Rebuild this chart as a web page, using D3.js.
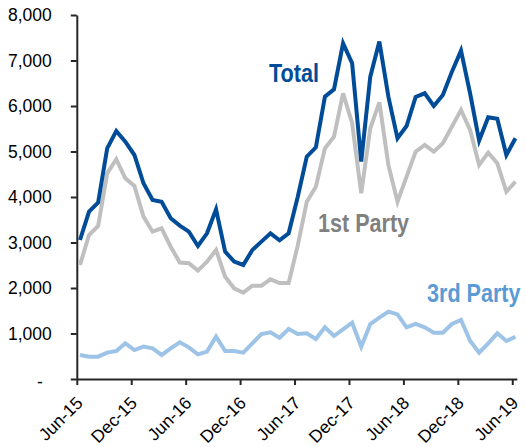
<!DOCTYPE html>
<html>
<head>
<meta charset="utf-8">
<script src="https://cdn.jsdelivr.net/npm/d3@7"></script>
<style>
  body { margin: 0; background: #fff; }
  svg { display: block; }
  .axis text { font-family: "Liberation Sans", Arial, sans-serif; font-size: 17.5px; fill: #000; }
  .axis path, .axis line { stroke: #262626; stroke-width: 2; }
  .series-label { font-family: "Liberation Sans", Arial, sans-serif; font-weight: bold; font-size: 26px; }
</style>
</head>
<body>
<script>
// monthly categories, Jun-15 .. Jun-19
const months = [
  "Jun-15","Jul-15","Aug-15","Sep-15","Oct-15","Nov-15","Dec-15",
  "Jan-16","Feb-16","Mar-16","Apr-16","May-16","Jun-16","Jul-16","Aug-16","Sep-16","Oct-16","Nov-16","Dec-16",
  "Jan-17","Feb-17","Mar-17","Apr-17","May-17","Jun-17","Jul-17","Aug-17","Sep-17","Oct-17","Nov-17","Dec-17",
  "Jan-18","Feb-18","Mar-18","Apr-18","May-18","Jun-18","Jul-18","Aug-18","Sep-18","Oct-18","Nov-18","Dec-18",
  "Jan-19","Feb-19","Mar-19","Apr-19","May-19","Jun-19"
];

const total = [
  3055, 3678, 3876, 5070, 5451, 5216, 4923, 4301, 3934, 3897, 3532, 3370, 3238,
  2923, 3202, 3729, 2799, 2579, 2506, 2835, 3019, 3202, 3050, 3202, 4000,
  4887, 5090, 6206, 6367, 7378, 6939, 4777, 6645, 7415, 6200, 5290, 5560,
  6200, 6279, 6001, 6242, 6755, 7217, 6280, 5240, 5752, 5720, 4923, 5290
];

const firstParty = [
  2506, 3165, 3363, 4521, 4829, 4411, 4242, 3568, 3238, 3312, 2908, 2560, 2543,
  2381, 2579, 2835, 2249, 1993, 1897, 2051, 2051, 2191, 2110, 2110, 2930,
  3897, 4227, 5070, 5326, 6279, 5620, 4081, 5510, 6080, 4700, 3897, 4447,
  4996, 5143, 4996, 5180, 5546, 5913, 5473, 4704, 4975, 4740, 4117, 4337
];

const thirdParty = [
  528, 491, 491, 579, 615, 784, 637, 711, 674, 528, 674, 806, 696,
  542, 601, 931, 615, 615, 579, 784, 989, 1026, 909, 1099, 989,
  1004, 879, 1136, 945, 1092, 1238, 711, 1209, 1348, 1480, 1421, 1136,
  1209, 1136, 1018, 1018, 1209, 1297, 842, 579, 784, 1004, 835, 930
];

const tickLabels = ["Jun-15","Dec-15","Jun-16","Dec-16","Jun-17","Dec-17","Jun-18","Dec-18","Jun-19"];
const yTicks = [0, 1000, 2000, 3000, 4000, 5000, 6000, 7000, 8000];

const width = 526, height = 447;

const svg = d3.select("body").append("svg")
    .attr("width", width)
    .attr("height", height);

// month index scale; axis starts a third of a month before the first point
const x = d3.scaleLinear().domain([-0.35, 48.15]).range([76.8, 516.8]);
const y = d3.scaleLinear().domain([0, 8000]).range([379, 15]);

// y axis
const yAxis = svg.append("g")
    .attr("class", "axis")
    .attr("transform", `translate(${x(-0.35)},0)`)
    .call(d3.axisLeft(y)
        .tickValues(yTicks)
        .tickSize(6)
        .tickSizeOuter(0)
        .tickPadding(19)
        .tickFormat(d => d === 0 ? "-" : d3.format(",")(d)));

yAxis.selectAll(".tick text")
    .filter(d => d === 0)
    .attr("dx", -9)
    .attr("dy", "0.5em");

// x axis
const xTickPos = tickLabels.map((t) => months.indexOf(t) - 0.35);

const xAxis = svg.append("g")
    .attr("class", "axis")
    .attr("transform", `translate(0,${y(0)})`)
    .call(d3.axisBottom(x)
        .tickValues(xTickPos)
        .tickSize(6)
        .tickSizeOuter(0)
        .tickFormat((d, i) => tickLabels[i]));

xAxis.selectAll(".tick text")
    .attr("x", 0)
    .attr("y", 0)
    .attr("dy", 0)
    .attr("text-anchor", "end")
    .attr("transform", "translate(6.5,25) rotate(-45)");

// lines
const line = d3.line()
    .x((d, i) => x(i))
    .y(d => y(d));

const series = [
    { values: firstParty, color: "#bfbfbf" },
    { values: thirdParty, color: "#9dc3e6" },
    { values: total, color: "#004c99" }
];

svg.append("g")
    .selectAll("path")
    .data(series)
    .join("path")
    .attr("d", d => line(d.values))
    .attr("fill", "none")
    .attr("stroke", d => d.color)
    .attr("stroke-width", 4)
    .attr("stroke-linejoin", "miter");

// series labels
const labels = [
    { text: "Total", x: 269, y: 82, color: "#004c99" },
    { text: "1st Party", x: 318, y: 232, color: "#808080" },
    { text: "3rd Party", x: 427, y: 302, color: "#5b9bd5" }
];

svg.append("g")
    .selectAll("text")
    .data(labels)
    .join("text")
    .attr("class", "series-label")
    .attr("transform", d => `translate(${d.x},${d.y}) scale(0.83,1)`)
    .attr("fill", d => d.color)
    .text(d => d.text);
</script>
</body>
</html>
